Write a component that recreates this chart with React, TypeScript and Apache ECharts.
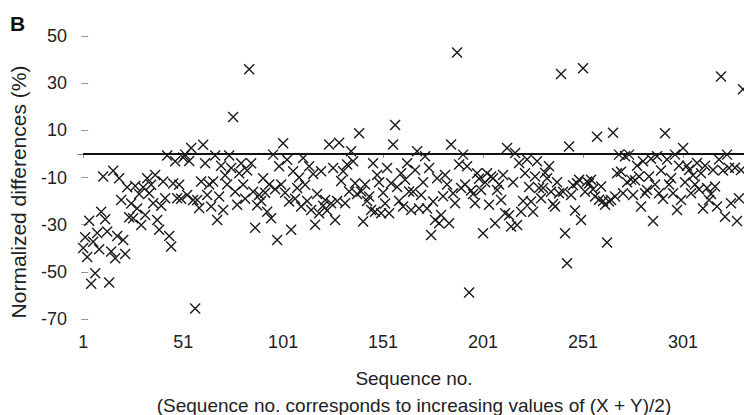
import { useEffect, useRef } from 'react'
import * as echarts from 'echarts'

// Normalized differences (%) for sequence no. 1 .. 331
const diffPct = [
  -39.9, -35.3, -43.7, -28.3, -55.1, -37.2, -50.6, -33.5, -40.4, -24.5,
  -9.6, -27.7, -32.9, -54.5, -41.4, -7.1, -44.2, -34.8, -10.3, -19.5,
  -36.5, -42.4, -14.1, -26.9, -21, -27.3, -13.6, -23.1, -17, -30.1,
  -14.1, -25.9, -10.3, -16.7, -13.1, -20.9, -8.9, -28, -32.2, -22,
  -11.7, -18.8, -0.7, -34.8, -39.3, -12.5, -3.1, -18.8, -13.1, -19,
  -1.5, -0.3, -17.4, -3, 2.5, -19.5, -65.5, -19.5, -22.9, -11.7,
  3.9, -4, -17.4, -13, -22.3, -11.7, -0.7, -28, -18.1, -5,
  -23.8, -9, -13, -0.7, -6, 15.7, -16, -21.6, -8.2, -4,
  -13, -19, -7, 35.9, -4, -16, -31.3, -21.8, -17.4, -20,
  -10.3, -16.5, -24.5, -13, -27.3, -0.3, -15, -36.5, -5.2, -13,
  4.5, -16.5, -2.5, -20.2, -32.2, -7.4, -19, -14.5, -10, -22.3,
  -1.7, -13.1, -20, -5.2, -23.8, -8.5, -30, -17, -25.2, -7.4,
  -22, -19.5, -24, 4, -20.9, -6, -28, -20, 4.7, -11.5,
  -7.4, -20.9, -4.5, -15.9, 1.1, -3.1, -12.4, -17, 8.8, -15.9,
  -28.7, -13, -20, -18.1, -23.8, -4, -24.5, -8.9, -12, -25.2,
  -16.5, -21, -6, -25.2, -12.4, 4, 12.3, -14, -20, -8.2,
  -22.3, -11, -4, -15.9, -23.8, -16, -6.8, 1.1, -23.1, -17.4,
  -12, -1, -23.1, -6, -34.4, -20.2, -28, -10.3, -29.4, -25.9,
  -18, -8.9, -13, -29.4, 4, -16.7, -20.9, 43, -4.5, -14.5,
  -0.3, -13, -5.2, -58.8, -15.5, -17, -20.9, -8.2, -10.5, -15.3,
  -33.6, -12, -8.2, -21.6, -9.6, -10.3, -29.4, -15.3, -13, -19.5,
  -8.9, -25.2, 2.5, -26, -30.8, -12, 0.4, -30.1, -3.9, -24.5,
  -20, -8.2, -2.4, -14, -20.2, -24.5, -9.6, -3.1, -14.5, -18.8,
  -14.5, -8, -10.3, -5.2, -16, -21.2, -22.3, -12, -16.7, 33.9,
  -16, -33.6, -46.4, 3.1, -17.4, -13.3, -24, -12.4, -11, -28,
  36.3, -16, -11.7, -12.5, -11, -15, -18.1, 7.3, -19.4, -13.8,
  -20, -21.6, -37.6, -20.2, -19.5, 9, -18.1, -8.2, -0.3, -7.6,
  -16.7, -1, -12, -0.3, -10.9, -17.4, -11.2, -5, -9.6, -22.3,
  -3.1, -16.7, -15.3, -9.6, -2, -28.4, -13, -1, -16.7, -7,
  -19, 8.8, -2.4, -13, -10.3, -16.7, -0.3, -23.8, -5, -19.5,
  2.5, -12, -5, -6.8, -16.7, -9, -13, -3.9, -15, -8.2,
  -23.1, -5, -14.5, -19.5, -17, -6.8, -13.8, -22.3, -2.4, 32.8,
  -7, -26.6, -0.3, -6, -20.9, 51.9, -5.9, -28.4, -18.8, -6.8,
  27.4,
]

const xTicks = [1, 51, 101, 151, 201, 251, 301]
const yTicks = [-70, -50, -30, -10, 10, 30, 50]
// horizontal reference line at 0 %, from sequence no. 1 to the right end
const zeroLineSeq = [1, 331.5]

const FONT = '"Liberation Sans", Arial, Helvetica, sans-serif'

export default function App() {
  const ref = useRef<HTMLDivElement>(null)

  useEffect(() => {
    if (!ref.current) return
    const chart = echarts.init(ref.current, undefined, { renderer: 'svg' })

    const points = diffPct.map((v, i) => [i + 1, v])

    chart.setOption({
      animation: false,
      backgroundColor: '#fff',
      grid: { left: 78, right: 0, top: 36, bottom: 96 },
      xAxis: {
        type: 'value',
        min: -1.6,
        max: 331.5,
        axisLine: { lineStyle: { color: '#777', width: 1 } },
        axisTick: {
          customValues: xTicks,
          length: 4,
          lineStyle: { color: '#888' },
        },
        axisLabel: {
          customValues: xTicks,
          margin: 14,
          fontSize: 18,
          color: '#222',
          fontFamily: FONT,
        },
        splitLine: { show: false },
      },
      yAxis: {
        type: 'value',
        min: -70,
        max: 50,
        axisLine: { show: false },
        axisTick: {
          show: true,
          inside: true,
          length: 7,
          customValues: yTicks,
          lineStyle: { color: '#999' },
        },
        axisLabel: {
          customValues: yTicks,
          margin: 11,
          fontSize: 18,
          color: '#222',
          fontFamily: FONT,
        },
        splitLine: { show: false },
      },
      series: [
        {
          type: 'line',
          data: zeroLineSeq.map((x) => [x, 0]),
          symbol: 'none',
          lineStyle: { color: '#111', width: 2 },
          silent: true,
          z: 1,
        },
        {
          type: 'scatter',
          data: points,
          symbol: 'path://M0,0L10,10M0,10L10,0',
          symbolSize: 10,
          itemStyle: {
            color: 'rgba(0,0,0,0)',
            borderColor: '#1a1a1a',
            borderWidth: 1.4,
            opacity: 1,
          },
          z: 2,
        },
      ],
      graphic: [
        {
          type: 'text',
          x: 10,
          y: 13,
          style: {
            text: 'B',
            font: `bold 21px ${FONT}`,
            fill: '#111',
            textVerticalAlign: 'top',
          },
        },
        {
          type: 'text',
          x: 18,
          y: 192,
          rotation: Math.PI / 2,
          style: {
            text: 'Normalized differences (%)',
            font: `21px ${FONT}`,
            fill: '#222',
            textAlign: 'center',
            textVerticalAlign: 'middle',
          },
        },
        {
          type: 'text',
          x: 414,
          y: 378,
          style: {
            text: 'Sequence no.',
            font: `19px ${FONT}`,
            fill: '#222',
            textAlign: 'center',
            textVerticalAlign: 'middle',
          },
        },
        {
          type: 'text',
          x: 414,
          y: 405,
          style: {
            text: '(Sequence no. corresponds to increasing values of (X + Y)/2)',
            font: `19px ${FONT}`,
            fill: '#222',
            textAlign: 'center',
            textVerticalAlign: 'middle',
          },
        },
      ],
    })

    return () => chart.dispose()
  }, [])

  return (
    <div
      ref={ref}
      style={{ position: 'absolute', left: 0, top: 0, width: 744, height: 415 }}
    />
  )
}
